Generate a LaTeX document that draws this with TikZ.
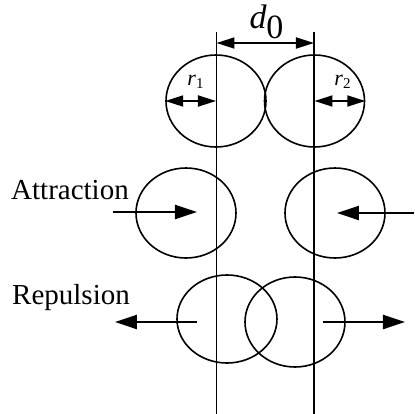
\documentclass[tikz,border=0pt]{standalone}
\usepackage{fontspec}
\setmainfont{Liberation Serif}
\usetikzlibrary{shapes.geometric,arrows.meta}
\begin{document}
\begin{tikzpicture}[x=0.5pt,y=-0.5pt,
  ball/.style={ellipse,draw,line width=0.8pt,inner sep=0pt,minimum width=50pt,minimum height=46pt},
  vline/.style={line width=0.65pt},
  force/.style={line width=1.2pt,-{Triangle[length=11pt,width=7pt]}},
  dim/.style={line width=0.9pt,{Triangle[length=9pt,width=5.5pt]}-{Triangle[length=9pt,width=5.5pt]}},
  lab/.style={font=\fontsize{14.5}{17}\selectfont}]
\useasboundingbox (0,0) rectangle (414,414);
% vertical reference lines
\coordinate (L1t) at (216.5,32);
\coordinate (L1b) at (216.5,414);
\coordinate (L2t) at (314,32);
\coordinate (L2b) at (314,414);
\draw[vline] (L1t) -- (L1b);
\draw[vline] (L2t) -- (L2b);
% d0
\coordinate (d1) at (216.5,43);
\coordinate (d2) at (314,43);
\draw[dim] (d1) -- (d2);
\node[font=\fontsize{17}{19}\selectfont] (dlab) at (267,22) {$\textit{d}_{\textrm{0}}$};
% top circles
\node[ball] (t1) at (216,101) {};
\node[ball] (t2) at (314.5,101) {};
\draw[dim] (t1.west) -- (t1.center);
\draw[dim] (t2.center) -- (t2.east);
\node[font=\fontsize{11}{12}\selectfont] (r1) at (196,82) {$\textit{r}_{\mbox{\fontsize{7.5}{8}\selectfont 1}}$};
\node[font=\fontsize{11}{12}\selectfont] (r2) at (343,82) {$\textit{r}_{\mbox{\fontsize{7.5}{8}\selectfont 2}}$};
% attraction
\node[ball,minimum height=45pt] (a1) at (186,213) {};
\node[ball,minimum height=45pt] (a2) at (335,213) {};
\node[lab] (att) at (70,190) {Attraction};
\coordinate (a1s) at (113,212);
\coordinate (a1e) at (197,212);
\coordinate (a2s) at (414,213);
\coordinate (a2e) at (337,213);
\draw[force] (a1s) -- (a1e);
\draw[force] (a2s) -- (a2e);
% repulsion
\node[ball,minimum height=44pt] (p1) at (227,319) {};
\node[ball,minimum height=45pt] (p2) at (295,322) {};
\node[lab] (rep) at (71,298) {Repulsion};
\coordinate (p1s) at (197,322);
\coordinate (p1e) at (115,322);
\coordinate (p2s) at (323,322);
\coordinate (p2e) at (405,322);
\draw[force] (p1s) -- (p1e);
\draw[force] (p2s) -- (p2e);
\end{tikzpicture}
\end{document}
